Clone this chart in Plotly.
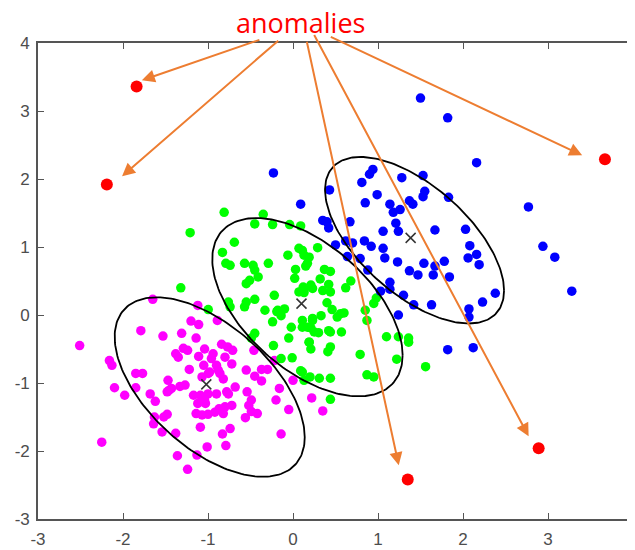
import numpy as np
import plotly.graph_objects as go

# ---------------- data ----------------
magenta_x = [-2.51, -2.25, -2.16, -2.13, -2.10, -1.98, -1.79, -1.85, -1.77, -1.85, -1.68, -1.65, -1.62, -1.53,
             -1.64, -1.63, -1.54, -1.52, -1.48, -1.47, -1.48, -1.43, -1.38, -1.36, -1.33, -1.38, -1.35, -1.31,
             -1.27, -1.24, -1.22, -1.24, -1.20, -1.14, -1.12, -1.11, -1.13, -1.11, -1.09, -1.12, -1.14, -1.09,
             -1.05, -1.07, -1.04, -1.01, -1.00, -1.03, -1.00, -0.96, -0.94, -0.89, -0.88, -0.90, -0.87, -0.84,
             -0.83, -0.82, -0.79, -0.80, -0.77, -0.76, -0.74, -0.72, -0.71, -0.68, -0.55, -0.56, -0.52, -0.49,
             -0.46, -0.42, -0.45, -0.37, -0.37, -0.30, -0.22, -0.20, -0.14, -0.16, -0.05, 0.00, 0.22, 0.35,
             -0.80, -0.90, -0.86, -0.996, -0.78, -0.54, -0.49, -0.72, -0.82, -1.17, -1.04, -1.07, -0.92, -0.98,
             -1.29, -1.46]
magenta_y = [-0.45, -1.87, -0.67, -0.74, -1.07, -1.18, -0.23, -0.86, -0.86, -1.07, -1.16, 0.23, -1.27, -0.31,
             -1.60, -1.50, -1.72, -1.50, -1.46, -0.96, -1.13, -1.08, -1.74, -2.07, -1.05, -0.57, -0.62, -0.27,
             -1.03, -0.52, -0.80, -2.27, -0.09, -0.34, 0.14, -0.14, -2.06, -0.61, -1.65, -1.30, -1.45, -1.18,
             -0.74, -0.91, -0.50, -1.94, -1.46, -1.30, -1.16, -0.64, -0.57, -0.08, -0.81, -1.16, -1.38, -0.43,
             -1.75, -0.94, -1.92, -1.35, -0.47, -1.16, -1.67, -0.72, -0.52, -1.06, -0.81, -1.51, -1.33, -1.25,
             -0.52, -1.45, -0.90, -0.80, -0.97, -0.80, -0.67, -1.25, -1.75, -1.08, -1.39, -0.96, -1.22, -1.41,
             -0.62, -0.74, -0.86, -0.86, -1.13, -1.13, -1.42, -1.33, -1.45, -1.18, -1.25, -1.47, -1.43, -0.84,
             -0.49, -1.11]

green_x = [-0.81, -1.21, -0.35, -0.45, -0.24, -0.04, 0.09, -0.69, -0.83, -0.79, -0.74, -0.57, -0.47, -0.29,
           -0.06, 0.07, 0.13, 0.17, 0.03, 0.02, -0.45, -0.41, -0.51, -0.55, -1.32, -0.22, -0.45, -0.55, -0.57,
           -0.76, -0.74, -0.997, -0.33, -0.19, -0.10, -0.14, 0.07, 0.13, 0.21, -0.24, -0.02, 0.17, 0.11, 0.23,
           -0.45, -0.49, -0.23, 0.19, 0.25, -0.14, -0.01, 0.09, 0.13, 0.20,
           0.29, 0.11, 0.19, 0.15, 0.37, 0.44, 0.32, 0.68, 0.42, 0.12, 0.23, 0.35, 0.44, 0.62, 0.13, 0.40,
           0.46, 0.56, 0.60, 0.52, 0.33, 0.23, 0.11, 0.21, 0.30, 0.42, 0.44, 0.57, 0.19, 0.21, 0.41, 0.44,
           0.79, 0.85, 0.87, 0.95, 0.98, 1.10, 1.24, 1.36, 1.36, 1.22, 1.56, 0.11, 0.31, 0.44, 0.87, 0.95,
           0.44, -0.05, -0.18]
green_y = [1.51, 1.21, 1.48, 1.34, 1.33, 1.33, 1.31, 1.07, 0.92, 0.76, 0.73, 0.76, 0.73, 0.76,
           0.88, 0.98, 0.88, 0.76, 0.67, 0.54, 0.66, 0.56, 0.51, 0.46, 0.40, 0.29, 0.23, 0.19, 0.12,
           0.19, 0.12, 0.08, 0.07, 0.05, 0.09, -0.01, 0.34, 0.37, 0.44, -0.10, -0.18, -0.18, -0.08, -0.08,
           -0.27, -0.34, -0.45, -0.40, -0.25, -0.64, -0.63, -0.82, -0.96, -0.91,
           0.99, 0.95, 0.85, 0.72, 0.67, 0.64, 0.53, 0.50, 0.45, 0.41, 0.39, 0.36, 0.34, 0.40, 0.33, 0.18,
           0.08, 0.02, 0.03, -0.03, -0.01, -0.05, -0.18, -0.19, -0.26, -0.23, -0.25, -0.25, -0.40, -0.50,
           -0.54, -0.47, -0.58, 0.07, -0.08, 0.17, 0.25, -0.32, -0.32, -0.34, -0.40, -0.65, -0.76, -0.84,
           -0.93, -0.93, -0.88, -0.91, -1.24, -0.34, 0.07]

blue_x = [1.50, 1.82, 2.16, 2.77, 2.94, 3.08, 0.09, 0.43, 0.81, 0.90, 0.94, 1.28, 1.53, 1.55, 1.53, 1.83,
          0.99, 0.85, 1.14, 1.18, 1.26, 1.37, 1.41, 0.67, 0.35, 0.40, 0.42, 1.21, 1.24, 1.06, 1.67, 2.03,
          2.08, 2.16, 2.06, 2.19, 0.84, 0.92, 1.06, 0.50, 0.62, 0.70, 0.64, 0.79, 1.08, 1.23, 1.54, 1.67,
          1.78, 1.37, 1.47, 1.65, 1.84, 0.88, 1.14, 1.14, 1.03, 1.30, 1.42, 1.63, 1.24, 1.82, 2.12, 2.07,
          2.07, 2.23, 2.38, 3.28, -0.23]
blue_y = [3.19, 2.90, 2.24, 1.59, 1.01, 0.85, 1.63, 1.84, 1.95, 2.07, 2.14, 2.02, 2.05, 1.82, 1.74, 1.73,
          1.77, 1.65, 1.63, 1.51, 1.55, 1.68, 1.63, 1.37, 1.39, 1.37, 1.28, 1.35, 1.23, 1.23, 1.25, 1.26,
          1.02, 0.89, 0.84, 0.74, 1.09, 1.01, 0.98, 1.03, 1.09, 1.06, 0.86, 0.83, 0.84, 0.78, 0.76, 0.72,
          0.79, 0.65, 0.59, 0.59, 0.56, 0.66, 0.48, 0.38, 0.35, 0.29, 0.15, 0.15, 0.00, -0.51, -0.48, 0.09,
          -0.03, 0.19, 0.32, 0.35, 2.09]

anomaly_x = [-1.84, -2.19, 3.67, 1.35, 2.89]
anomaly_y = [3.36, 1.92, 2.29, -2.42, -1.96]

# cluster centres (x markers)
center_x = [-1.02, 0.10, 1.384]
center_y = [-1.02, 0.167, 1.134]

# ellipse parameters: centre and shape matrix entries
ell_cx = [-0.98, 0.17, 1.43]
ell_cy = [-1.06, 0.115, 1.10]
ell_sxx = [1.25, 1.254, 1.109]
ell_syy = [1.742, 1.719, 1.50]
ell_sxy = [-0.825, -0.79, -0.78]

# arrows: head (tip) and tail positions in data units
arrow_tip_x = [-1.778, -2.011, 1.244, 2.772, 3.402]
arrow_tip_y = [3.451, 2.04, -2.21, -1.784, 2.349]
arrow_tail_x = [-0.378, -0.156, 0.159, 0.240, 0.427]
arrow_tail_y = [4.054, 4.054, 4.04, 4.14, 4.10]

label_text = "anomalies"
x_ticks = [-3, -2, -1, 0, 1, 2, 3, 4]
x_tick_labels = ["-3", "-2", "-1", "0", "1", "2", "3", "4"]
y_ticks = [-3, -2, -1, 0, 1, 2, 3, 4]
y_tick_labels = ["-3", "-2", "-1", "0", "1", "2", "3", "4"]

# ---------------- figure ----------------
fig = go.Figure()

dot = 9.5
fig.add_trace(go.Scatter(x=magenta_x, y=magenta_y, mode="markers",
                         marker=dict(color="#FF00FF", size=dot, line=dict(width=0)), showlegend=False))
fig.add_trace(go.Scatter(x=green_x, y=green_y, mode="markers",
                         marker=dict(color="#00FF00", size=dot, line=dict(width=0)), showlegend=False))
fig.add_trace(go.Scatter(x=blue_x, y=blue_y, mode="markers",
                         marker=dict(color="#0000FF", size=dot, line=dict(width=0)), showlegend=False))

t = np.linspace(0, 2 * np.pi, 200)
for cx, cy, a, b, c in zip(ell_cx, ell_cy, ell_sxx, ell_syy, ell_sxy):
    L = np.linalg.cholesky(np.array([[a, c], [c, b]]))
    pts = L @ np.vstack([np.cos(t), np.sin(t)])
    fig.add_trace(go.Scatter(x=pts[0] + cx, y=pts[1] + cy, mode="lines",
                             line=dict(color="black", width=1.8), showlegend=False, hoverinfo="skip"))

fig.add_trace(go.Scatter(x=center_x, y=center_y, mode="markers",
                         marker=dict(symbol="x-thin", size=10, line=dict(color="#333333", width=1.5)),
                         showlegend=False))

fig.add_trace(go.Scatter(x=anomaly_x, y=anomaly_y, mode="markers", cliponaxis=False,
                         marker=dict(color="#FF0000", size=12, line=dict(width=0)), showlegend=False))

for hx, hy, tx, ty in zip(arrow_tip_x, arrow_tip_y, arrow_tail_x, arrow_tail_y):
    fig.add_annotation(x=hx, y=hy, ax=tx, ay=ty, xref="x", yref="y", axref="x", ayref="y",
                       text="", showarrow=True, arrowhead=2, arrowsize=1.3, arrowwidth=2,
                       arrowcolor="#ED7D31", standoff=0, startstandoff=0)

fig.add_annotation(x=0.4417, y=1 + 20.7 / 476, xref="paper", yref="paper", text=label_text,
                   showarrow=False, font=dict(family="Open Sans", size=27, color="#FF0000"),
                   xanchor="center", yanchor="middle")

axis_common = dict(showgrid=False, zeroline=False, showline=True, linecolor="#555555", linewidth=1.6,
                   ticks="inside", ticklen=6, tickwidth=1, tickcolor="#555555", mirror="ticks",
                   tickfont=dict(family="Liberation Sans", size=17, color="#4d4d4d"))

fig.update_xaxes(range=[-3, 4], tickvals=x_ticks, ticktext=x_tick_labels, ticklabelstandoff=4,
                 **axis_common)
fig.update_yaxes(range=[-3, 4], tickvals=y_ticks, ticktext=y_tick_labels, ticklabelstandoff=3,
                 **axis_common)

# the page adds an 8px body margin, so the plot area is shifted by that amount
fig.update_layout(width=635, height=550, margin=dict(l=30, r=5, t=35, b=39),
                  plot_bgcolor="white", paper_bgcolor="white")

fig.write_html("out.html")
